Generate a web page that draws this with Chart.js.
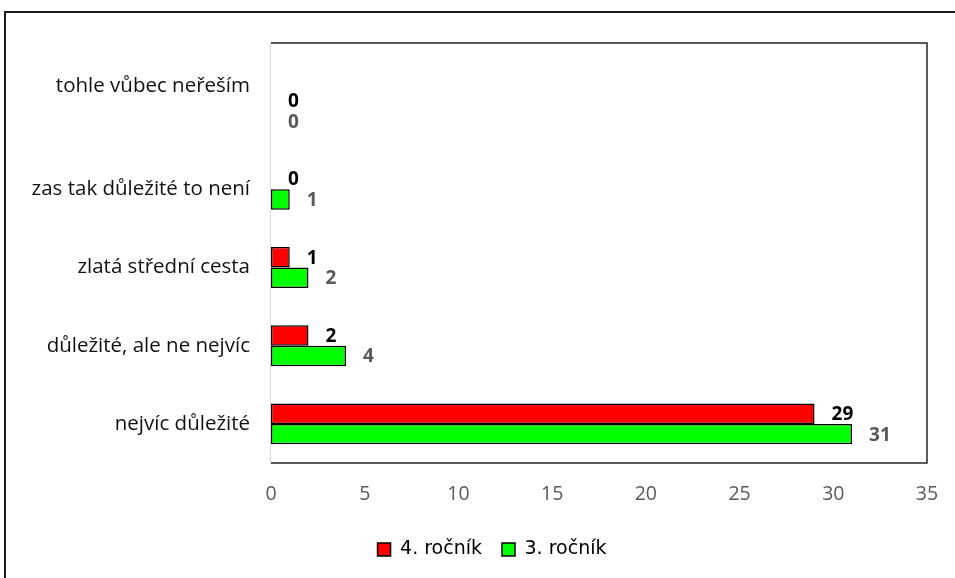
<!DOCTYPE html>
<html>
<head>
<meta charset="utf-8">
<script src="https://cdn.jsdelivr.net/npm/chart.js@4.4.1/dist/chart.umd.min.js"></script>
<style>
    body { margin: 0; background: #fff; overflow: hidden; }
    #wrap { position: relative; width: 955px; height: 578px; }
    #frame {
        position: absolute; left: 4px; top: 11px; width: 1000px; height: 600px;
        border-left: 2px solid #1a1a1a; border-top: 2px solid #1a1a1a;
        pointer-events: none;
    }
</style>
</head>
<body>
<div id="wrap">
    <canvas id="chart" width="955" height="578"></canvas>
    <div id="frame"></div>
</div>
<script>
// Categories, top to bottom (first one sits a bit higher in the original)
const categories = [
    ['tohle vůbec neřeším', '', ''],
    'zas tak důležité to není',
    'zlatá střední cesta',
    'důležité, ale ne nejvíc',
    'nejvíc důležité'
];

// Series values
const rocnik4 = [0, 0, 1, 2, 29];
const rocnik3 = [0, 1, 2, 4, 31];

// Value axis
const xMin = 0;
const xMax = 35;
const xStep = 5;

// Plot frame: border around the plot area (top edge sits above the first category)
const plotFrame = {
    id: 'plotFrame',
    beforeDatasetsDraw(chart) {
        const { ctx, chartArea: a } = chart;
        const top = a.top - 29;
        ctx.save();
        ctx.strokeStyle = '#262626';
        ctx.lineWidth = 1.5;
        ctx.beginPath();
        ctx.moveTo(a.left, top);
        ctx.lineTo(a.right, top);
        ctx.lineTo(a.right, a.bottom);
        ctx.lineTo(a.left, a.bottom);
        ctx.stroke();
        ctx.strokeStyle = '#d9d9d9';
        ctx.lineWidth = 1;
        ctx.beginPath();
        ctx.moveTo(a.left - 0.5, top);
        ctx.lineTo(a.left - 0.5, a.bottom);
        ctx.stroke();
        ctx.restore();
    }
};

// Value labels next to each bar
const barLabels = {
    id: 'barLabels',
    afterDatasetsDraw(chart) {
        const { ctx } = chart;
        const colors = ['#000000', '#595959'];
        ctx.save();
        ctx.font = 'bold 19px "Open Sans"';
        ctx.textAlign = 'left';
        ctx.textBaseline = 'middle';
        chart.data.datasets.forEach((ds, i) => {
            const meta = chart.getDatasetMeta(i);
            ctx.fillStyle = colors[i];
            meta.data.forEach((bar, j) => {
                ctx.fillText(String(ds.data[j]), bar.x + 17, bar.y + 1);
            });
        });
        ctx.restore();
    }
};

new Chart(document.getElementById('chart'), {
    type: 'bar',
    data: {
        labels: categories,
        datasets: [
            {
                label: '4. ročník',
                data: rocnik4,
                backgroundColor: '#ff0000',
                borderColor: '#000000',
                borderWidth: 1.5,
                borderSkipped: false
            },
            {
                label: '3. ročník',
                data: rocnik3,
                backgroundColor: '#00ff00',
                borderColor: '#000000',
                borderWidth: 1.5,
                borderSkipped: false
            }
        ]
    },
    options: {
        indexAxis: 'y',
        responsive: false,
        animation: false,
        events: [],
        datasets: { bar: { barPercentage: 1.0, categoryPercentage: 0.523 } },
        // negative right padding + empty right axis keep the legend centred like the original
        layout: { padding: { left: 0, right: -29, top: 72, bottom: 9 } },
        scales: {
            x: {
                min: xMin,
                max: xMax,
                grid: { display: false },
                border: { display: false },
                ticks: {
                    stepSize: xStep,
                    padding: 12,
                    color: '#595959',
                    font: { family: 'Open Sans', size: 19.5 }
                },
                afterFit: (scale) => { scale.height = 57; }
            },
            y: {
                grid: { display: false },
                border: { display: false },
                ticks: {
                    padding: 13,
                    color: '#111111',
                    font: { family: 'Open Sans', size: 20.5 }
                },
                afterFit: (scale) => { scale.width = 271; }
            },
            yRight: {
                type: 'category',
                position: 'right',
                grid: { display: false },
                border: { display: false },
                ticks: { display: false },
                afterFit: (scale) => { scale.width = 57; }
            }
        },
        plugins: {
            legend: {
                position: 'bottom',
                labels: {
                    boxWidth: 13,
                    boxHeight: 13,
                    padding: 20,
                    color: '#000000',
                    font: { family: 'DejaVu Sans', size: 19 }
                }
            },
            tooltip: { enabled: false }
        }
    },
    plugins: [plotFrame, barLabels]
});
</script>
</body>
</html>
